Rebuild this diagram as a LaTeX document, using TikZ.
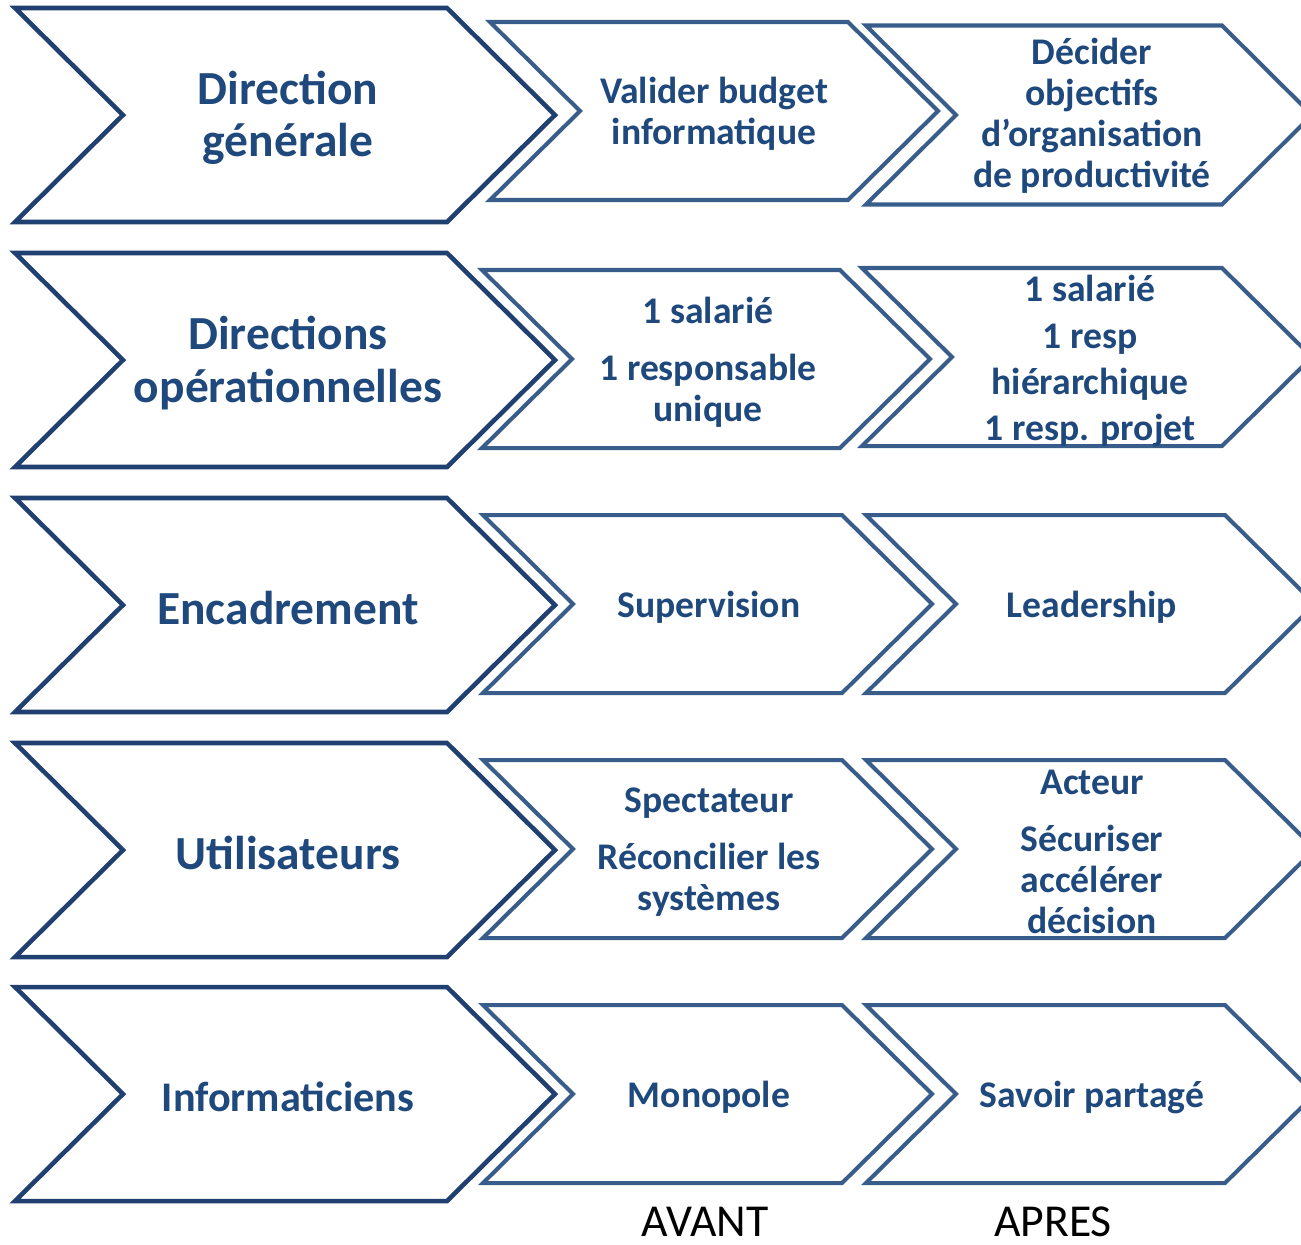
\documentclass[tikz,border=0pt]{standalone}
\usepackage{fontspec}
\setmainfont{Carlito}
\usepackage{tikz}

\definecolor{navy}{RGB}{31,64,112}
\definecolor{steel}{RGB}{56,93,138}
\definecolor{ink}{RGB}{31,73,125}

\begin{document}
\begin{tikzpicture}[%
  x=0.01cm, y=-0.01cm,
  lvl/.style={draw=navy, line width=1.3pt},
  chg/.style={draw=steel, line width=1.15pt},
  lvltxt/.style={text=ink, align=center, yshift=-0.3mm,
                 font=\bfseries\fontsize{13.5}{14.8}\selectfont
  },
  chgtxt/.style={text=ink, align=center, yshift=-0.3mm,
                 font=\bfseries\fontsize{10.7}{11.7}\selectfont
  },
  stage/.style={font=\fontsize{13}{15}\selectfont},
  pics/chev/.style n args={3}{code={
    \path [pic actions] (0,-#2/2) -- ++(#1,0) -- ++(#3,#2/2)
      -- ++(-#3,#2/2) -- ++(-#1,0) -- ++(#3,-#2/2) -- cycle;
  }}
]
\path [use as bounding box, clip] (0,0) rectangle (1301,1244);

% levels
\pic [lvl] at (15,115)  {chev={432}{214}{108}};
\pic [lvl] at (15,360)  {chev={432}{214}{108}};
\pic [lvl] at (15,605)  {chev={432}{214}{108}};
\pic [lvl] at (15,850)  {chev={432}{214}{108}};
\pic [lvl] at (15,1094) {chev={432}{214}{108}};

\node [lvltxt] (dg)   at (288,115)  {Direction\\générale};
\node [lvltxt] (dop)  at (288,360)  {Directions\\opérationnelles};
\node [lvltxt] (enc)  at (288,605)  {Encadrement};
\node [lvltxt] (util) at (288,850)  {Utilisateurs};
\node [lvltxt, font=\bfseries\fontsize{12}{14}\selectfont] (info) at (288,1094) {Informaticiens};

% avant
\pic [chg] at (490,111)  {chev={358}{178}{90}};
\pic [chg] at (482,359)  {chev={358}{178}{90}};
\pic [chg] at (483,604)  {chev={359}{178}{90}};
\pic [chg] at (483,849)  {chev={359}{178}{90}};
\pic [chg] at (483,1094) {chev={359}{178}{90}};

\node [chgtxt] (dgav)   at (714,111)  {Valider budget\\informatique};
\node [chgtxt] (dopav)  at (708,359)  {1 salarié\\[4.5pt]1 responsable\\unique};
\node [chgtxt] (encav)  at (709,604)  {Supervision};
\node [chgtxt] (utilav) at (709,849)  {Spectateur\\[4.5pt]Réconcilier les\\systèmes};
\node [chgtxt] (infoav) at (709,1094) {Monopole};

% apres
\pic [chg] at (866,115)  {chev={356}{179}{90}};
\pic [chg] at (862,357)  {chev={360}{178}{90}};
\pic [chg] at (866,604)  {chev={359}{178}{90}};
\pic [chg] at (866,849)  {chev={359}{178}{90}};
\pic [chg] at (866,1094) {chev={359}{178}{90}};

\node [chgtxt] (dgap)   at (1092,113)  {Décider\\objectifs\\d’organisation\\de productivité};
\node [chgtxt] (dopap)  at (1090,358)  {1 salarié\\[1.4pt]1 resp\\[1.4pt]hiérarchique\\[1.4pt]1 resp. projet};
\node [chgtxt] (encap)  at (1092,604)  {Leadership};
\node [chgtxt] (utilap) at (1092,849)  {Acteur\\[4.5pt]Sécuriser\\accélérer\\décision};
\node [chgtxt] (infoap) at (1092,1094) {Savoir partagé};

\node [stage] (avant) at (705,1222)  {AVANT};
\node [stage] (apres) at (1053,1222) {APRES};

\end{tikzpicture}
\end{document}
